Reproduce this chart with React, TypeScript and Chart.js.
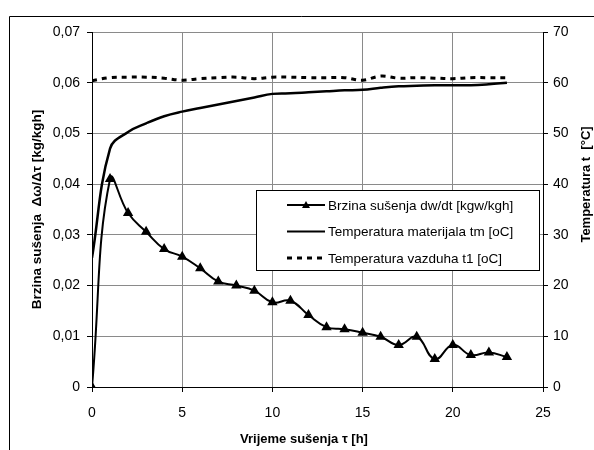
import React, { useEffect, useRef } from "react";
import { Chart, registerables } from "chart.js";

Chart.register(...registerables);

// ---- data ----
const hours = [0, 1, 2, 3, 4, 5, 6, 7, 8, 9, 10, 11, 12, 13, 14, 15, 16, 17, 18, 19, 20, 21, 22, 23];
const dryingRate = [0, 0.041, 0.0343, 0.0306, 0.0272, 0.0257, 0.0234, 0.0208, 0.02, 0.019, 0.0167, 0.017, 0.0142, 0.0118, 0.0114, 0.0107, 0.0099, 0.0083, 0.0099, 0.0055, 0.0083, 0.0063, 0.0068, 0.0059];
const materialTemp = [25.5, 47, 50.3, 52, 53.4, 54.3, 55, 55.7, 56.4, 57.1, 57.8, 57.9, 58.1, 58.3, 58.5, 58.6, 59.0, 59.3, 59.4, 59.5, 59.5, 59.5, 59.7, 60];
const airTemp = [60.4, 61, 61.1, 61.1, 60.9, 60.5, 60.8, 61, 61.1, 60.8, 61.1, 61.1, 61, 61, 61, 60.5, 61.3, 60.9, 61, 60.9, 60.8, 61, 61, 61];

const seriesNames = [
  "Brzina sušenja dw/dt [kgw/kgh]",
  "Temperatura materijala tm [oC]",
  "Temperatura vazduha t1 [oC]",
];
const xTitle = "Vrijeme sušenja τ [h]";
const yLeftTitle = "Brzina sušenja  Δω/Δτ [kg/kgh]";
const yRightTitle = "Temperatura t  [°C]";

const FONT = "'Liberation Sans', Arial, sans-serif";

const decorPlugin = {
  id: "decor",
  beforeDraw(chart: any) {
    const ctx = chart.ctx;
    ctx.save();
    ctx.fillStyle = "#ffffff";
    ctx.fillRect(0, 0, chart.width, chart.height);
    ctx.strokeStyle = "#000000";
    ctx.lineWidth = 1;
    ctx.beginPath();
    ctx.moveTo(9.5, chart.height);
    ctx.lineTo(9.5, 16.5);
    ctx.lineTo(chart.width, 16.5);
    ctx.stroke();
    ctx.restore();
  },
  afterDraw(chart: any) {
    const ctx = chart.ctx;
    const a = chart.chartArea;
    ctx.save();
    // axis titles
    ctx.fillStyle = "#000";
    ctx.font = `bold 13px ${FONT}`;
    ctx.textAlign = "center";
    ctx.textBaseline = "middle";
    ctx.fillText(xTitle, a.left + 212, a.bottom + 52);
    ctx.save();
    ctx.translate(a.left - 55, (a.top + a.bottom) / 2);
    ctx.rotate(-Math.PI / 2);
    ctx.font = `bold 13.5px ${FONT}`;
    ctx.fillText(yLeftTitle, 0, 0);
    ctx.restore();
    ctx.save();
    ctx.translate(a.right + 43, (a.top + a.bottom) / 2 - 25);
    ctx.rotate(-Math.PI / 2);
    ctx.fillText(yRightTitle, 0, 0);
    ctx.restore();

    // legend box
    const bx = a.left + 164;
    const by = a.top + 158;
    const bw = 283;
    const bh = 80;
    ctx.fillStyle = "#fff";
    ctx.fillRect(bx, by, bw, bh);
    ctx.strokeStyle = "#000";
    ctx.lineWidth = 1;
    ctx.strokeRect(bx + 0.5, by + 0.5, bw, bh);
    const rows = [15, 41.5, 68];
    const sx0 = bx + 31;
    const sx1 = bx + 69;
    ctx.font = `13.5px ${FONT}`;
    ctx.textAlign = "left";
    ctx.fillStyle = "#000";
    rows.forEach((dy, i) => {
      const y = by + dy;
      ctx.strokeStyle = "#000";
      ctx.beginPath();
      if (i === 2) {
        ctx.lineWidth = 3;
        ctx.setLineDash([5, 5]);
      } else {
        ctx.lineWidth = 2;
        ctx.setLineDash([]);
      }
      ctx.moveTo(sx0, y);
      ctx.lineTo(sx1, y);
      ctx.stroke();
      ctx.setLineDash([]);
      if (i === 0) {
        const cx = (sx0 + sx1) / 2;
        ctx.beginPath();
        ctx.moveTo(cx, y - 4);
        ctx.lineTo(cx + 4, y + 3);
        ctx.lineTo(cx - 4, y + 3);
        ctx.closePath();
        ctx.fill();
      }
      ctx.fillText(seriesNames[i], sx1 + 3, y + 1);
    });
    ctx.restore();
  },
};

export default function App() {
  const ref = useRef<HTMLCanvasElement | null>(null);

  useEffect(() => {
    if (!ref.current) return;
    const chart = new Chart(ref.current, {
      type: "line",
      data: {
        datasets: [
          {
            label: seriesNames[0],
            data: hours.map((h, i) => ({ x: h, y: dryingRate[i] })),
            yAxisID: "y",
            borderColor: "#000",
            backgroundColor: "#000",
            borderWidth: 2,
            pointStyle: "triangle",
            pointRadius: 4,
            tension: 0.45,
          },
          {
            label: seriesNames[1],
            data: hours.map((h, i) => ({ x: h, y: materialTemp[i] })),
            yAxisID: "y2",
            borderColor: "#000",
            borderWidth: 2.5,
            pointRadius: 0,
            tension: 0.4,
          },
          {
            label: seriesNames[2],
            data: hours.map((h, i) => ({ x: h, y: airTemp[i] })),
            yAxisID: "y2",
            borderColor: "#000",
            borderWidth: 3,
            borderDash: [5, 5],
            pointRadius: 0,
            tension: 0.4,
          },
        ],
      },
      options: {
        responsive: false,
        animation: false,
        layout: { padding: { top: 32, left: 0, right: 0, bottom: 0 } },
        plugins: { legend: { display: false }, tooltip: { enabled: false } },
        scales: {
          x: {
            type: "linear",
            min: 0,
            max: 25,
            ticks: { stepSize: 5, color: "#000", font: { family: FONT, size: 14 }, padding: 13 },
            grid: { color: "#8a8a8a", lineWidth: 1, tickColor: "#000", tickLength: 5 },
            border: { color: "#000", width: 1 },
            afterFit: (s: any) => { s.height = 63; },
          },
          y: {
            position: "left",
            min: 0,
            max: 0.07,
            ticks: {
              stepSize: 0.01,
              color: "#000",
              font: { family: FONT, size: 14 },
              padding: 7,
              callback: (v: any) => (Number(v) === 0 ? "0" : Number(v).toFixed(2).replace(".", ",")),
            },
            grid: { color: "#8a8a8a", lineWidth: 1, tickColor: "#000", tickLength: 5 },
            border: { color: "#000", width: 1 },
            afterFit: (s: any) => { s.width = 92; },
          },
          y2: {
            position: "right",
            min: 0,
            max: 70,
            ticks: { stepSize: 10, color: "#000", font: { family: FONT, size: 14 }, padding: 5 },
            grid: { drawOnChartArea: false, tickColor: "#000", tickLength: 5 },
            border: { color: "#000", width: 1 },
            afterFit: (s: any) => { s.width = 51; },
          },
        },
      },
      plugins: [decorPlugin],
    });
    return () => chart.destroy();
  }, []);

  return (
    <div style={{ position: "fixed", left: 0, top: 0, width: 594, height: 450 }}>
      <canvas ref={ref} width={594} height={450} style={{ display: "block" }} />
    </div>
  );
}
